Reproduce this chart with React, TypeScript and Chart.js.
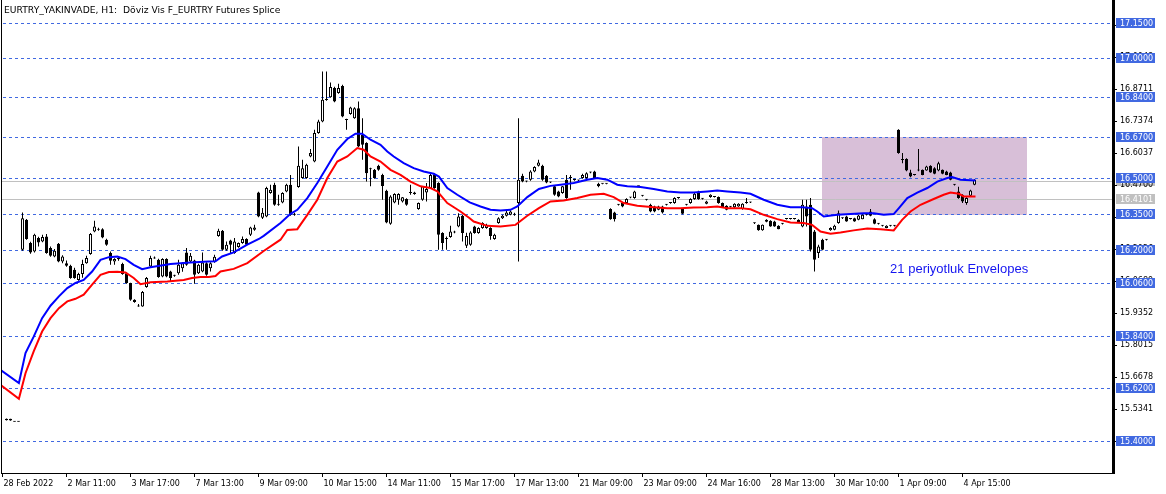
import React, { useEffect, useRef } from 'react';
import { Chart, registerables } from 'chart.js';

Chart.register(...registerables);

// ---------- chart title ----------
const chartTitle = 'EURTRY_YAKINVADE, H1:  Döviz Vis F_EURTRY Futures Splice';

// ---------- hourly candles (bar index = position in arrays) ----------
const opens = [
  15.493, 15.486, 15.481, 15.481, 16.200, 16.325, 16.228, 16.193, 16.249, 16.235,
  16.255, 16.207, 16.172, 16.225, 16.151, 16.144, 16.133, 16.116, 16.074, 16.099,
  16.144, 16.182, 16.276, 16.288, 16.286, 16.242, 16.186, 16.151, 16.166, 16.140,
  16.102, 16.061, 15.991, 15.963, 15.963, 16.044, 16.130, 16.165, 16.158, 16.088,
  16.161, 16.109, 16.091, 16.102, 16.123, 16.189, 16.151, 16.155, 16.102, 16.109,
  16.144, 16.123, 16.150, 16.258, 16.279, 16.200, 16.239, 16.186, 16.212, 16.228,
  16.245, 16.263, 16.284, 16.439, 16.334, 16.339, 16.437, 16.472, 16.388, 16.398,
  16.444, 16.472, 16.346, 16.462, 16.500, 16.500, 16.590, 16.569, 16.688, 16.736,
  16.827, 16.838, 16.876, 16.855, 16.885, 16.743, 16.768, 16.750, 16.792, 16.681,
  16.646, 16.537, 16.534, 16.551, 16.513, 16.447, 16.309, 16.398, 16.409, 16.402,
  16.412, 16.437, 16.433, 16.370, 16.409, 16.439, 16.458, 16.516, 16.479, 16.270,
  16.245, 16.253, 16.272, 16.297, 16.342, 16.217, 16.221, 16.297, 16.270, 16.291,
  16.291, 16.291, 16.245, 16.312, 16.332, 16.342, 16.346, 16.346, 16.395, 16.509,
  16.485, 16.493, 16.527, 16.551, 16.551, 16.509, 16.481, 16.465, 16.444, 16.437,
  16.493, 16.500, 16.493, 16.490, 16.500, 16.500, 16.523, 16.527, 16.476, 16.476,
  16.476, 16.370, 16.356, 16.388, 16.395, 16.395, 16.418, 16.416, 16.465, 16.426,
  16.409, 16.388, 16.381, 16.367, 16.381, 16.388, 16.395, 16.395, 16.416, 16.370,
  16.388, 16.395, 16.412, 16.444, 16.413, 16.392, 16.420, 16.421, 16.420, 16.395,
  16.384, 16.380, 16.378, 16.381, 16.370, 16.395, 16.398, 16.311, 16.304, 16.281,
  16.325, 16.321, 16.318, 16.300, 16.309, 16.329, 16.329, 16.329, 16.325, 16.297,
  16.381, 16.388, 16.276, 16.186, 16.242, 16.242, 16.281, 16.284, 16.312, 16.332,
  16.339, 16.329, 16.332, 16.325, 16.328, 16.346, 16.360, 16.328, 16.309, 16.300,
  16.291, 16.300, 16.300, 16.702, 16.576, 16.579, 16.523, 16.513, 16.531, 16.534,
  16.531, 16.551, 16.541, 16.531, 16.534, 16.527, 16.523, 16.472, 16.444, 16.430,
  16.395, 16.426, 16.472,
];
const highs = [
  15.495, 15.494, 15.482, 15.482, 16.356, 16.329, 16.233, 16.267, 16.254, 16.263,
  16.266, 16.214, 16.203, 16.228, 16.177, 16.155, 16.137, 16.125, 16.104, 16.158,
  16.175, 16.270, 16.321, 16.292, 16.290, 16.246, 16.193, 16.164, 16.171, 16.146,
  16.106, 16.062, 15.993, 15.973, 16.028, 16.086, 16.175, 16.172, 16.162, 16.164,
  16.164, 16.112, 16.095, 16.158, 16.148, 16.207, 16.186, 16.158, 16.141, 16.189,
  16.148, 16.148, 16.179, 16.288, 16.283, 16.235, 16.242, 16.249, 16.230, 16.255,
  16.248, 16.296, 16.304, 16.442, 16.375, 16.463, 16.472, 16.480, 16.430, 16.440,
  16.476, 16.513, 16.355, 16.632, 16.576, 16.559, 16.621, 16.702, 16.743, 16.945,
  16.945, 16.899, 16.881, 16.894, 16.890, 16.748, 16.798, 16.796, 16.820, 16.750,
  16.649, 16.543, 16.538, 16.555, 16.518, 16.451, 16.428, 16.436, 16.436, 16.421,
  16.415, 16.472, 16.442, 16.398, 16.467, 16.479, 16.520, 16.520, 16.482, 16.273,
  16.255, 16.300, 16.279, 16.353, 16.346, 16.271, 16.277, 16.300, 16.294, 16.315,
  16.309, 16.294, 16.267, 16.336, 16.346, 16.363, 16.365, 16.355, 16.750, 16.518,
  16.488, 16.532, 16.549, 16.576, 16.555, 16.513, 16.484, 16.470, 16.447, 16.467,
  16.513, 16.513, 16.497, 16.493, 16.518, 16.524, 16.526, 16.530, 16.480, 16.478,
  16.478, 16.373, 16.359, 16.391, 16.398, 16.415, 16.421, 16.447, 16.468, 16.429,
  16.412, 16.392, 16.384, 16.384, 16.384, 16.391, 16.398, 16.419, 16.419, 16.373,
  16.391, 16.415, 16.437, 16.447, 16.416, 16.405, 16.432, 16.424, 16.423, 16.398,
  16.386, 16.383, 16.394, 16.394, 16.394, 16.416, 16.401, 16.314, 16.306, 16.306,
  16.327, 16.323, 16.321, 16.302, 16.312, 16.332, 16.332, 16.332, 16.327, 16.409,
  16.409, 16.416, 16.283, 16.221, 16.246, 16.245, 16.294, 16.304, 16.364, 16.335,
  16.342, 16.332, 16.334, 16.346, 16.348, 16.349, 16.370, 16.332, 16.312, 16.303,
  16.302, 16.303, 16.303, 16.704, 16.604, 16.582, 16.534, 16.516, 16.621, 16.536,
  16.551, 16.553, 16.545, 16.568, 16.536, 16.530, 16.526, 16.475, 16.463, 16.432,
  16.419, 16.451, 16.495,
];
const lows = [
  15.486, 15.485, 15.480, 15.480, 16.196, 16.242, 16.183, 16.189, 16.214, 16.231,
  16.183, 16.171, 16.169, 16.148, 16.144, 16.129, 16.079, 16.079, 16.070, 16.083,
  16.141, 16.179, 16.273, 16.279, 16.248, 16.217, 16.137, 16.137, 16.154, 16.095,
  16.058, 15.987, 15.978, 15.962, 15.962, 16.041, 16.127, 16.162, 16.083, 16.085,
  16.085, 16.067, 16.087, 16.095, 16.108, 16.133, 16.148, 16.058, 16.099, 16.106,
  16.091, 16.109, 16.146, 16.254, 16.196, 16.196, 16.186, 16.183, 16.208, 16.225,
  16.217, 16.258, 16.279, 16.336, 16.329, 16.336, 16.434, 16.384, 16.384, 16.394,
  16.440, 16.342, 16.342, 16.459, 16.497, 16.497, 16.587, 16.566, 16.685, 16.733,
  16.823, 16.835, 16.817, 16.852, 16.754, 16.702, 16.764, 16.748, 16.628, 16.576,
  16.485, 16.465, 16.497, 16.530, 16.409, 16.311, 16.304, 16.394, 16.388, 16.398,
  16.384, 16.430, 16.430, 16.367, 16.405, 16.402, 16.455, 16.455, 16.200, 16.200,
  16.200, 16.250, 16.269, 16.294, 16.235, 16.207, 16.217, 16.267, 16.267, 16.288,
  16.288, 16.242, 16.242, 16.309, 16.329, 16.339, 16.344, 16.342, 16.151, 16.482,
  16.482, 16.488, 16.524, 16.548, 16.488, 16.478, 16.479, 16.426, 16.419, 16.434,
  16.413, 16.451, 16.488, 16.487, 16.497, 16.497, 16.520, 16.497, 16.461, 16.474,
  16.474, 16.325, 16.318, 16.385, 16.378, 16.392, 16.415, 16.413, 16.462, 16.423,
  16.406, 16.357, 16.357, 16.365, 16.352, 16.385, 16.392, 16.392, 16.413, 16.348,
  16.385, 16.392, 16.409, 16.409, 16.410, 16.390, 16.417, 16.418, 16.392, 16.375,
  16.365, 16.377, 16.375, 16.380, 16.367, 16.392, 16.395, 16.308, 16.279, 16.279,
  16.315, 16.296, 16.296, 16.286, 16.306, 16.326, 16.326, 16.326, 16.313, 16.294,
  16.297, 16.193, 16.109, 16.165, 16.198, 16.239, 16.279, 16.281, 16.309, 16.329,
  16.317, 16.326, 16.317, 16.323, 16.327, 16.343, 16.340, 16.307, 16.306, 16.297,
  16.290, 16.297, 16.297, 16.601, 16.562, 16.528, 16.503, 16.510, 16.528, 16.511,
  16.530, 16.522, 16.516, 16.528, 16.516, 16.511, 16.491, 16.469, 16.413, 16.395,
  16.388, 16.424, 16.470,
];
const closes = [
  15.487, 15.493, 15.481, 15.481, 16.332, 16.245, 16.189, 16.263, 16.230, 16.253,
  16.186, 16.175, 16.196, 16.151, 16.172, 16.133, 16.082, 16.082, 16.099, 16.140,
  16.165, 16.266, 16.297, 16.284, 16.251, 16.221, 16.154, 16.161, 16.160, 16.099,
  16.061, 15.991, 15.982, 15.964, 16.023, 16.082, 16.165, 16.163, 16.086, 16.161,
  16.088, 16.082, 16.091, 16.137, 16.144, 16.137, 16.175, 16.095, 16.137, 16.147,
  16.095, 16.144, 16.171, 16.279, 16.200, 16.221, 16.221, 16.235, 16.228, 16.245,
  16.221, 16.293, 16.293, 16.339, 16.355, 16.458, 16.451, 16.388, 16.389, 16.437,
  16.472, 16.346, 16.347, 16.551, 16.541, 16.555, 16.604, 16.688, 16.736, 16.827,
  16.826, 16.880, 16.820, 16.876, 16.757, 16.742, 16.795, 16.792, 16.632, 16.639,
  16.520, 16.538, 16.500, 16.534, 16.467, 16.314, 16.423, 16.433, 16.433, 16.419,
  16.388, 16.438, 16.439, 16.395, 16.465, 16.454, 16.513, 16.458, 16.263, 16.228,
  16.246, 16.276, 16.274, 16.339, 16.270, 16.258, 16.272, 16.270, 16.291, 16.312,
  16.304, 16.258, 16.263, 16.332, 16.342, 16.356, 16.360, 16.347, 16.493, 16.485,
  16.486, 16.527, 16.546, 16.565, 16.493, 16.481, 16.482, 16.430, 16.423, 16.465,
  16.416, 16.501, 16.492, 16.491, 16.513, 16.520, 16.524, 16.500, 16.465, 16.477,
  16.476, 16.328, 16.328, 16.389, 16.381, 16.412, 16.419, 16.444, 16.466, 16.427,
  16.410, 16.360, 16.360, 16.381, 16.356, 16.389, 16.396, 16.416, 16.417, 16.350,
  16.389, 16.412, 16.434, 16.412, 16.414, 16.402, 16.430, 16.422, 16.395, 16.378,
  16.367, 16.381, 16.392, 16.392, 16.392, 16.396, 16.399, 16.312, 16.281, 16.304,
  16.317, 16.297, 16.297, 16.286, 16.310, 16.330, 16.330, 16.330, 16.314, 16.388,
  16.339, 16.200, 16.158, 16.214, 16.200, 16.243, 16.291, 16.300, 16.353, 16.333,
  16.318, 16.330, 16.318, 16.343, 16.346, 16.347, 16.342, 16.309, 16.310, 16.301,
  16.300, 16.301, 16.301, 16.604, 16.575, 16.531, 16.506, 16.514, 16.533, 16.513,
  16.548, 16.523, 16.518, 16.562, 16.518, 16.513, 16.493, 16.473, 16.416, 16.402,
  16.416, 16.448, 16.493,
];

// ---------- 21-period Envelopes (upper = blue, lower = red) ----------
const upperIdx = [
  -1.5, 3.1, 4.75, 6.8, 8.9, 11, 13.1, 15.2, 17.25, 19.3, 21.4, 23.5, 25.6, 27.7, 29.75, 31.8,
  33.9, 36, 41, 46, 50.5, 52.25, 53.9, 56.8, 60.2, 63.1, 64.3, 68.5, 71, 72.7, 75.2, 77.7,
  80.2, 82.7, 85.2, 87.25, 88.9, 91, 93.5, 95.2, 96.8, 99.3, 101.8, 104.3, 106.8, 108.1, 110.2, 112.7,
  115.8, 118.5, 121, 123.5, 126, 127.7, 130.2, 133.1, 136, 138.5, 141.8, 145.2, 147.7, 150.2, 152.7, 155.2,
  158.5, 161.8, 165.2, 168.5, 171.8, 175.2, 177.7, 180.2, 183.5, 186, 189.3, 192.7, 196, 198.9, 201.4, 202.7,
  204.3, 207.7, 211, 214.3, 216.8, 219.3, 221.8, 223.1, 225.2, 227.7, 230.2, 232.7, 235.2, 236.4, 238.5, 242.25,
];
const upperVal = [
  15.698, 15.643, 15.768, 15.837, 15.914, 15.966, 16.005, 16.040, 16.061, 16.074, 16.109, 16.158, 16.169, 16.172, 16.161, 16.137,
  16.119, 16.127, 16.140, 16.147, 16.151, 16.152, 16.172, 16.189, 16.221, 16.245, 16.258, 16.312, 16.350, 16.367, 16.416, 16.479,
  16.548, 16.618, 16.663, 16.685, 16.685, 16.660, 16.639, 16.611, 16.590, 16.562, 16.541, 16.527, 16.518, 16.506, 16.458, 16.430,
  16.398, 16.381, 16.367, 16.364, 16.367, 16.381, 16.420, 16.454, 16.467, 16.472, 16.479, 16.493, 16.500, 16.493, 16.472, 16.465,
  16.462, 16.454, 16.444, 16.439, 16.439, 16.444, 16.448, 16.444, 16.439, 16.434, 16.409, 16.388, 16.378, 16.378, 16.374, 16.360,
  16.339, 16.346, 16.349, 16.353, 16.353, 16.346, 16.349, 16.374, 16.416, 16.439, 16.458, 16.485, 16.500, 16.504, 16.493, 16.490,
];
const lowerIdx = [
  -1.5, 3.1, 4.75, 6.8, 8.9, 11, 13.1, 15.2, 17.25, 19.3, 21.4, 23.5, 25.6, 27.7, 29.75, 31.8,
  33.5, 36, 40.2, 44.3, 46.4, 48.5, 50.6, 52.25, 53.5, 56.8, 60.2, 64.3, 68.5, 70.2, 72.7, 75.2,
  77.7, 80.2, 82.7, 85.2, 87.7, 89.3, 91, 93.5, 96, 98.5, 101, 103.5, 106, 107.7, 110.2, 113.5,
  115.8, 116.8, 120.2, 123.5, 127.25, 130.2, 133.1, 136, 139.3, 142.7, 146, 149.3, 151.8, 154.3, 157.7, 161.8,
  165.2, 168.5, 171.8, 175.2, 177.7, 180.2, 183.5, 186, 189.3, 192.7, 196, 199.3, 201.4, 203.5, 206, 208.5,
  211.8, 215.2, 218.5, 221.8, 223.9, 226, 228.5, 231.8, 234.3, 236, 238.1, 239.3, 242.25,
];
const lowerVal = [
  15.635, 15.577, 15.684, 15.775, 15.858, 15.914, 15.956, 15.984, 15.995, 16.012, 16.054, 16.095, 16.107, 16.108, 16.105, 16.082,
  16.056, 16.064, 16.067, 16.074, 16.082, 16.086, 16.086, 16.090, 16.109, 16.120, 16.144, 16.195, 16.242, 16.283, 16.286, 16.346,
  16.409, 16.500, 16.569, 16.590, 16.625, 16.618, 16.590, 16.569, 16.534, 16.513, 16.485, 16.465, 16.458, 16.444, 16.395, 16.360,
  16.332, 16.318, 16.300, 16.297, 16.304, 16.342, 16.374, 16.402, 16.406, 16.416, 16.430, 16.434, 16.420, 16.395, 16.384, 16.378,
  16.374, 16.374, 16.377, 16.378, 16.381, 16.374, 16.374, 16.369, 16.346, 16.328, 16.314, 16.312, 16.304, 16.276, 16.267, 16.272,
  16.281, 16.289, 16.286, 16.281, 16.325, 16.360, 16.388, 16.412, 16.430, 16.439, 16.434, 16.423, 16.423,
];

// ---------- axes ----------
const timeTickIdx = [-1, 15, 31, 47, 63, 79, 95, 111, 127, 143, 159, 175, 191, 207, 223, 239];
const timeLabels = [
  '28 Feb 2022', '2 Mar 11:00', '3 Mar 17:00', '7 Mar 13:00', '9 Mar 09:00', '10 Mar 15:00',
  '14 Mar 11:00', '15 Mar 17:00', '17 Mar 13:00', '21 Mar 09:00', '23 Mar 09:00', '24 Mar 16:00',
  '28 Mar 13:00', '30 Mar 10:00', '1 Apr 09:00', '4 Apr 15:00',
];
const priceTicks = [
  15.4004, 15.5341, 15.6678, 15.8015, 15.9352, 16.0689, 16.2026, 16.3363, 16.47, 16.6037,
  16.7374, 16.8711, 17.0048, 17.1385,
];
const Y_MIN = 15.2667;
const Y_MAX = 17.2399;
const X_MIN = -1.125;
const X_MAX = 276.625;

// ---------- drawn objects ----------
const levelPrices = [17.15, 17.0, 16.84, 16.67, 16.5, 16.35, 16.2, 16.06, 15.84, 15.62, 15.4];
const bidPrice = 16.4101;
const askPrice = 16.4875;
const zoneIdx = [203.9, 255.1];
const zonePrice = [16.67, 16.347];
const envLabelAt = [220.9, 16.104];
const envLabelText = '21 periyotluk Envelopes';

const AXIS_FONT_FAMILY = '"DejaVu Sans", "Liberation Sans", sans-serif';

const overlayPlugin = {
  id: 'mt5Overlay',
  beforeDraw(chart: any) {
    const { ctx, chartArea: a } = chart;
    const y = chart.scales.y;
    ctx.save();
    ctx.font = `8px ${AXIS_FONT_FAMILY}`;
    ctx.textBaseline = 'middle';
    ctx.textAlign = 'left';
    [askPrice, bidPrice].forEach((p) => {
      const py = Math.round(y.getPixelForValue(p));
      ctx.fillStyle = '#c0c0c0';
      ctx.fillRect(a.right + 3, py - 5, 39, 10);
      ctx.fillStyle = '#ffffff';
      ctx.fillText(p.toFixed(4), a.right + 7, py + 0.5);
    });
    ctx.restore();
  },
  beforeDatasetsDraw(chart: any) {
    const { ctx, chartArea: a } = chart;
    const x = chart.scales.x;
    const y = chart.scales.y;
    ctx.save();
    ctx.beginPath();
    ctx.rect(a.left, a.top, a.right - a.left, a.bottom - a.top);
    ctx.clip();
    const zl = Math.round(x.getPixelForValue(zoneIdx[0]));
    const zr = Math.round(x.getPixelForValue(zoneIdx[1]));
    const zt = Math.round(y.getPixelForValue(zonePrice[0]));
    const zb = Math.round(y.getPixelForValue(zonePrice[1]));
    ctx.fillStyle = '#d8bfd8';
    ctx.fillRect(zl, zt, zr - zl, zb - zt);
    ctx.lineWidth = 1;
    ctx.strokeStyle = '#c0c0c0';
    [askPrice, bidPrice].forEach((p) => {
      const py = Math.round(y.getPixelForValue(p)) + 0.5;
      ctx.beginPath();
      ctx.moveTo(a.left, py);
      ctx.lineTo(a.right, py);
      ctx.stroke();
    });
    ctx.strokeStyle = '#4169e1';
    ctx.setLineDash([3, 3]);
    levelPrices.forEach((p) => {
      const py = Math.round(y.getPixelForValue(p)) + 0.5;
      ctx.beginPath();
      ctx.moveTo(a.left + 1, py);
      ctx.lineTo(a.right, py);
      ctx.stroke();
    });
    ctx.restore();
  },
  afterDraw(chart: any) {
    const { ctx, chartArea: a } = chart;
    const x = chart.scales.x;
    const y = chart.scales.y;
    ctx.save();
    // frame
    ctx.fillStyle = '#000000';
    ctx.fillRect(1, 0, 1, a.bottom + 1);
    ctx.fillRect(1, a.bottom, a.right + 1, 1);
    ctx.fillRect(a.right - 1, 0, 3, a.bottom + 1);
    // level price boxes
    ctx.font = `8px ${AXIS_FONT_FAMILY}`;
    ctx.textBaseline = 'middle';
    ctx.textAlign = 'left';
    levelPrices.forEach((p) => {
      const py = Math.round(y.getPixelForValue(p));
      ctx.fillStyle = '#4169e1';
      ctx.fillRect(a.right + 3, py - 5, 39, 10);
      ctx.fillStyle = '#ffffff';
      ctx.fillText(p.toFixed(4), a.right + 7, py + 0.5);
    });
    // envelope caption
    ctx.fillStyle = '#1515f0';
    ctx.font = '13px "Liberation Sans", Arial, sans-serif';
    ctx.textBaseline = 'alphabetic';
    ctx.fillText(envLabelText, x.getPixelForValue(envLabelAt[0]), y.getPixelForValue(envLabelAt[1]));
    // title
    ctx.fillStyle = '#000000';
    ctx.font = `9.2px ${AXIS_FONT_FAMILY}`;
    ctx.fillText(chartTitle, 4, 13);
    ctx.restore();
  },
};

export default function App() {
  const canvasRef = useRef<HTMLCanvasElement | null>(null);

  useEffect(() => {
    const canvas = canvasRef.current;
    if (!canvas) return;

    const bodyData = opens.map((o, i) => ({ x: i, y: [o, closes[i]] }));
    const wickData = highs.map((h, i) => ({ x: i, y: [lows[i], h] }));
    const upperData = upperIdx.map((v, i) => ({ x: v, y: upperVal[i] }));
    const lowerData = lowerIdx.map((v, i) => ({ x: v, y: lowerVal[i] }));

    const chart = new Chart(canvas, {
      type: 'bar',
      data: {
        datasets: [
          {
            type: 'line',
            label: 'Envelopes upper',
            data: upperData,
            borderColor: '#0000ff',
            borderWidth: 2,
            pointRadius: 0,
            tension: 0,
            fill: false,
            order: 0,
          } as any,
          {
            type: 'line',
            label: 'Envelopes lower',
            data: lowerData,
            borderColor: '#ff0000',
            borderWidth: 2,
            pointRadius: 0,
            tension: 0,
            fill: false,
            order: 0,
          } as any,
          {
            type: 'bar',
            label: 'body',
            data: bodyData,
            barThickness: 3,
            grouped: false,
            borderWidth: 1,
            borderColor: '#000000',
            borderSkipped: false,
            inflateAmount: 0,
            minBarLength: 1,
            backgroundColor: (c: any) =>
              closes[c.dataIndex] >= opens[c.dataIndex] ? '#ffffff' : '#000000',
            order: 1,
          } as any,
          {
            type: 'bar',
            label: 'wick',
            data: wickData,
            barThickness: 1,
            grouped: false,
            borderWidth: 0,
            inflateAmount: 0,
            backgroundColor: '#000000',
            order: 2,
          } as any,
        ],
      },
      options: {
        responsive: false,
        animation: false,
        devicePixelRatio: 1,
        events: [],
        layout: { padding: { left: 2, top: 1, right: 0, bottom: 0 } },
        plugins: {
          legend: { display: false },
          tooltip: { enabled: false },
          title: { display: false },
        },
        scales: {
          x: {
            type: 'linear',
            min: X_MIN,
            max: X_MAX,
            bounds: 'data',
            offset: false,
            grid: {
              display: true,
              drawOnChartArea: false,
              drawTicks: true,
              tickLength: 4,
              color: '#000000',
              offset: false,
            },
            border: { display: false },
            afterBuildTicks: (s: any) => {
              s.ticks = timeTickIdx.map((v) => ({ value: v }));
            },
            afterFit: (s: any) => {
              s.height = 21;
              s.paddingLeft = 0;
              s.paddingRight = 0;
            },
            ticks: {
              autoSkip: false,
              maxRotation: 0,
              minRotation: 0,
              align: 'start',
              labelOffset: 1,
              padding: 2,
              color: '#000000',
              font: { family: AXIS_FONT_FAMILY, size: 8 },
              callback: (_v: any, i: number) => timeLabels[i],
            },
          },
          y: {
            type: 'linear',
            position: 'right',
            min: Y_MIN,
            max: Y_MAX,
            bounds: 'data',
            grid: {
              display: true,
              drawOnChartArea: false,
              drawTicks: true,
              tickLength: 4,
              color: '#000000',
            },
            border: { display: false },
            afterBuildTicks: (s: any) => {
              s.ticks = priceTicks.map((v) => ({ value: v }));
            },
            afterFit: (s: any) => {
              s.width = 53;
              s.paddingTop = 0;
              s.paddingBottom = 0;
            },
            ticks: {
              autoSkip: false,
              padding: 3,
              color: '#000000',
              font: { family: AXIS_FONT_FAMILY, size: 8 },
              callback: (v: any) => Number(v).toFixed(4),
            },
          },
        },
      } as any,
      plugins: [overlayPlugin],
    } as any);

    return () => chart.destroy();
  }, []);

  return (
    <div
      style={{
        position: 'fixed',
        left: 0,
        top: 0,
        width: 1166,
        height: 494,
        background: '#ffffff',
      }}
    >
      <canvas
        ref={canvasRef}
        width={1166}
        height={494}
        style={{ display: 'block', width: 1166, height: 494 }}
      />
    </div>
  );
}
